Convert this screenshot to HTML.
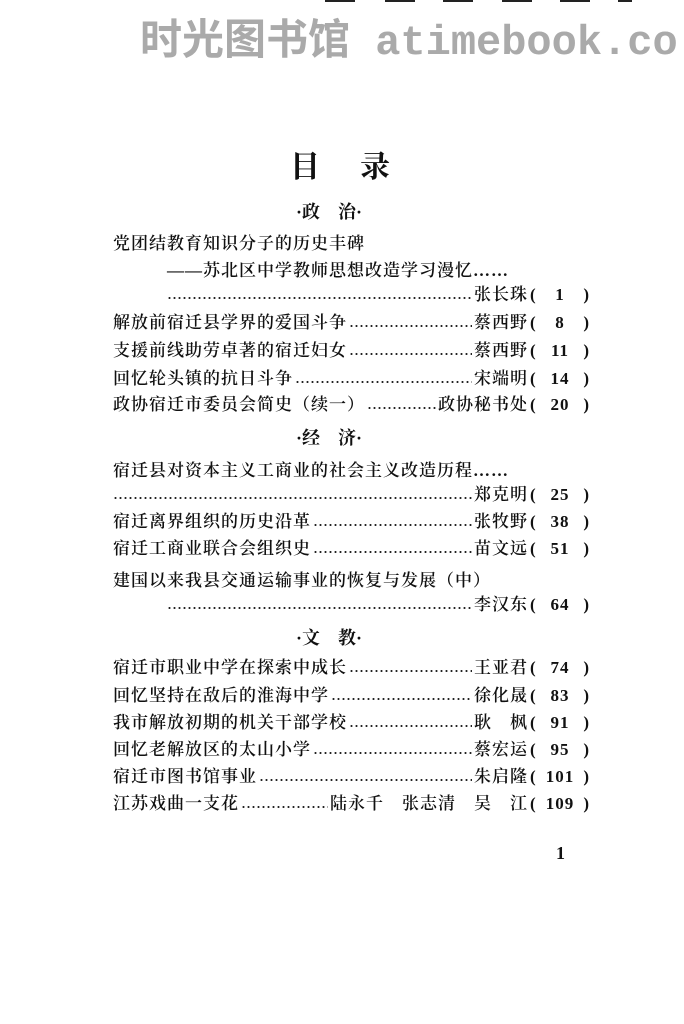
<!DOCTYPE html>
<html><head><meta charset="utf-8"><style>
body{margin:0;width:684px;height:1024px;background:#fff;position:relative;overflow:hidden;font-family:"Liberation Serif","Noto Serif CJK SC",serif;color:#111}
.wm{position:absolute;left:140px;top:6px;font:bold 42px "Liberation Mono","Noto Sans CJK SC",sans-serif;color:#aaa;white-space:nowrap;letter-spacing:0px}
.dash{position:absolute;top:0;height:2px;background:#222;width:30px}
.t{position:absolute;left:0;width:720px;text-align:center;top:142px;font-size:30px;letter-spacing:40px;font-weight:bold}
.sec{position:absolute;font-size:18px;white-space:pre;font-weight:bold}
.row{position:absolute;left:113px;width:477px;height:22px;display:flex;align-items:flex-end;font-size:17px;letter-spacing:1px;white-space:nowrap;font-weight:600}
.f{flex:1;height:4px;margin:0 2px 5px;background:radial-gradient(circle,#222 0.9px,transparent 1.2px) 0 0/5px 4px repeat-x}
.p{display:inline-flex;justify-content:space-between;width:60px;margin-left:2px}
.line{position:absolute;font-size:17px;letter-spacing:1px;white-space:nowrap;font-weight:600}
</style></head><body>
<div class="wm">时光图书馆 atimebook.co</div>
<div class="dash" style="left:325px"></div><div class="dash" style="left:385px"></div><div class="dash" style="left:443px"></div><div class="dash" style="left:502px"></div><div class="dash" style="left:560px"></div><div class="dash" style="left:618px;width:14px"></div>
<div class="t">目录</div>
<div class="sec" style="left:296px;top:198px">·政    治·</div>
<div class="line" style="left:113px;top:229px">党团结教育知识分子的历史丰碑</div>
<div class="line" style="left:167px;top:256px">——苏北区中学教师思想改造学习漫忆……</div>
<div class="row" style="left:167px;width:423px;top:283px"><span class="f" style="margin-left:0"></span>张长珠<span class="p"><span>(</span><span>1</span><span>)</span></span></div>
<div class="row" style="top:311px">解放前宿迁县学界的爱国斗争<span class="f"></span>蔡西野<span class="p"><span>(</span><span>8</span><span>)</span></span></div>
<div class="row" style="top:339px">支援前线助劳卓著的宿迁妇女<span class="f"></span>蔡西野<span class="p"><span>(</span><span>11</span><span>)</span></span></div>
<div class="row" style="top:367px">回忆轮头镇的抗日斗争<span class="f"></span>宋端明<span class="p"><span>(</span><span>14</span><span>)</span></span></div>
<div class="row" style="top:393px">政协宿迁市委员会简史（续一）<span class="f"></span>政协秘书处<span class="p"><span>(</span><span>20</span><span>)</span></span></div>
<div class="sec" style="left:296px;top:424px">·经    济·</div>
<div class="line" style="left:113px;top:456px">宿迁县对资本主义工商业的社会主义改造历程……</div>
<div class="row" style="top:483px"><span class="f" style="margin-left:0"></span>郑克明<span class="p"><span>(</span><span>25</span><span>)</span></span></div>
<div class="row" style="top:510px">宿迁离界组织的历史沿革<span class="f"></span>张牧野<span class="p"><span>(</span><span>38</span><span>)</span></span></div>
<div class="row" style="top:537px">宿迁工商业联合会组织史<span class="f"></span>苗文远<span class="p"><span>(</span><span>51</span><span>)</span></span></div>
<div class="line" style="left:113px;top:566px">建国以来我县交通运输事业的恢复与发展（中）</div>
<div class="row" style="left:167px;width:423px;top:593px"><span class="f" style="margin-left:0"></span>李汉东<span class="p"><span>(</span><span>64</span><span>)</span></span></div>
<div class="sec" style="left:296px;top:624px">·文    教·</div>
<div class="row" style="top:656px">宿迁市职业中学在探索中成长<span class="f"></span>王亚君<span class="p"><span>(</span><span>74</span><span>)</span></span></div>
<div class="row" style="top:684px">回忆坚持在敌后的淮海中学<span class="f"></span>徐化晟<span class="p"><span>(</span><span>83</span><span>)</span></span></div>
<div class="row" style="top:711px">我市解放初期的机关干部学校<span class="f"></span>耿　枫<span class="p"><span>(</span><span>91</span><span>)</span></span></div>
<div class="row" style="top:738px">回忆老解放区的太山小学<span class="f"></span>蔡宏运<span class="p"><span>(</span><span>95</span><span>)</span></span></div>
<div class="row" style="top:765px">宿迁市图书馆事业<span class="f"></span>朱启隆<span class="p"><span>(</span><span>101</span><span>)</span></span></div>
<div class="row" style="top:792px">江苏戏曲一支花<span class="f"></span>陆永千　张志清　吴　江<span class="p"><span>(</span><span>109</span><span>)</span></span></div>
<div class="line" style="left:556px;top:843px;font-size:18px">1</div>
</body></html>
